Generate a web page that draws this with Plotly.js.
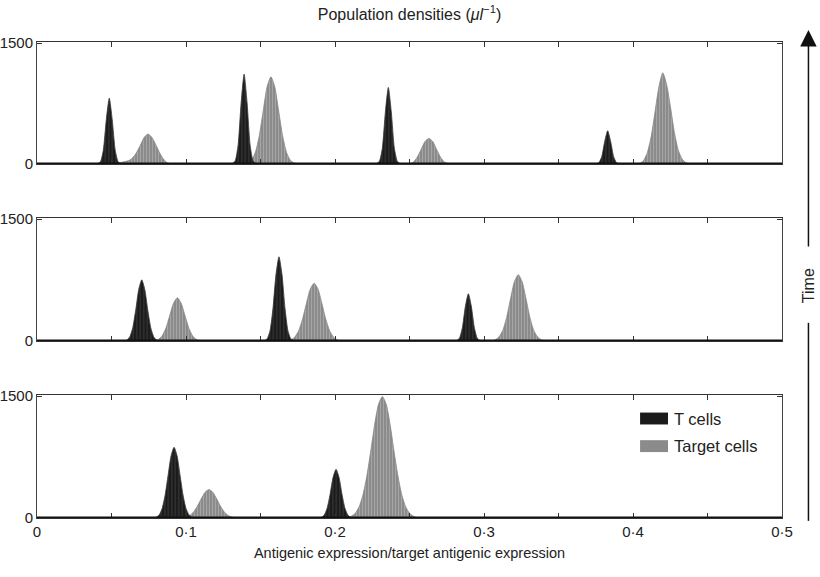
<!DOCTYPE html>
<html>
<head>
<meta charset="utf-8">
<script src="https://cdn.plot.ly/plotly-3.0.1.min.js"></script>
<style>html,body{margin:0;padding:0;background:#fff}#chart{width:820px;height:577px}</style>
</head>
<body>
<div id="chart"></div>
<script>
// Histogram bin widths (antigenic expression units)
const tBin = 0.002;
const gBin = 0.0026;

// Panel 1 (top, latest time)
const p1TStarts = [0.0385, 0.129, 0.2258, 0.373];
const p1TVals = [
  [0, 3, 25, 170, 550, 818, 550, 170, 25, 3, 0],
  [0, 5, 40, 240, 760, 1116, 760, 240, 40, 5, 0],
  [0, 4, 35, 200, 645, 951, 645, 200, 35, 4, 0],
  [0, 2, 15, 90, 280, 413, 280, 90, 15, 2, 0]
];
const p1GStarts = [0.0511, 0.1388, 0.2474, 0.4018];
const p1GVals = [
  [0, 12, 20, 30, 42, 75, 140, 230, 330, 372, 330, 240, 140, 60, 15, 0],
  [0, 12, 47, 147, 352, 657, 956, 1083, 956, 657, 352, 147, 47, 12, 3, 0],
  [0, 5, 25, 85, 180, 280, 318, 280, 180, 85, 25, 5, 0],
  [0, 8, 40, 140, 340, 650, 960, 1132, 985, 700, 390, 170, 60, 16, 3, 0]
];

// Panel 2 (middle)
const p2TStarts = [0.0583, 0.1504, 0.2795];
const p2TVals = [
  [0, 12, 53, 168, 387, 637, 753, 637, 387, 168, 53, 12, 0],
  [0, 3, 25, 128, 409, 822, 1037, 822, 409, 128, 25, 3, 0],
  [0, 4, 35, 167, 427, 582, 427, 167, 35, 4, 0]
];
const p2GStarts = [0.076, 0.1678, 0.3048];
const p2GVals = [
  [0, 6, 17, 58, 153, 307, 464, 533, 464, 307, 153, 58, 17, 6, 0],
  [0, 14, 48, 126, 269, 462, 640, 711, 640, 462, 269, 126, 48, 14, 0],
  [0, 14, 50, 130, 290, 520, 730, 817, 730, 520, 290, 130, 50, 14, 0]
];

// Panel 3 (bottom, earliest time)
const p3TStarts = [0.078, 0.1887];
const p3TVals = [
  [0, 10, 38, 118, 283, 528, 768, 871, 768, 528, 283, 118, 38, 10, 0],
  [0, 7, 34, 119, 292, 501, 600, 501, 292, 119, 34, 7, 0]
];
const p3GStarts = [0.0946, 0.2084];
const p3GVals = [
  [0, 3, 10, 30, 72, 144, 236, 317, 350, 317, 236, 144, 72, 30, 10, 3, 0],
  [0, 22, 58, 139, 287, 519, 824, 1149, 1400, 1496, 1400, 1149, 824, 519, 287, 139, 58, 22, 0]
];

const xTickVals = [0, 0.05, 0.1, 0.15, 0.2, 0.25, 0.3, 0.35, 0.4, 0.45, 0.5];
const xTickText = ['0', '', '0·1', '', '0·2', '', '0·3', '', '0·4', '', '0·5'];
const yTickVals = [0, 1500];
const yTickText = ['0', '1500'];
const seriesNames = ['T cells', 'Target cells'];

const tColor = '#1b1b1b';
const gColor = '#8b8b8b';
const styles = [
  {color: tColor, line: '#3a3a3a', pat: {shape: '|', bgcolor: tColor, fgcolor: '#6a6a6a', size: 3.5, solidity: 0.12}},
  {color: gColor, line: '#858585', pat: {shape: '|', bgcolor: gColor, fgcolor: '#c4c4c4', size: 3, solidity: 0.15}}
];

const panels = [
  {T: [p1TStarts, p1TVals], G: [p1GStarts, p1GVals], ax: ''},
  {T: [p2TStarts, p2TVals], G: [p2GStarts, p2GVals], ax: '2'},
  {T: [p3TStarts, p3TVals], G: [p3GStarts, p3GVals], ax: '3'}
];

const traces = [];
function addPeaks(starts, vals, bin, st, name, ax) {
  starts.forEach((s, i) => {
    const x = vals[i].map((v, j) => +(s + j * bin).toFixed(5));
    traces.push({
      type: 'scatter', mode: 'lines', x: x, y: vals[i], name: name,
      xaxis: 'x' + ax, yaxis: 'y' + ax, showlegend: false,
      fill: 'tozeroy', fillcolor: st.color, fillpattern: st.pat,
      line: {color: st.line, width: 0.8, shape: 'spline', smoothing: 0.6}
    });
  });
}
panels.forEach(p => {
  addPeaks(p.G[0], p.G[1], gBin, styles[1], seriesNames[1], p.ax);
  addPeaks(p.T[0], p.T[1], tBin, styles[0], seriesNames[0], p.ax);
});

const font = {family: 'Liberation Sans, Arial, sans-serif', size: 14, color: '#222'};
const tickFont = {family: font.family, size: 15, color: '#222'};
function xax(anchor, labels) {
  return {
    anchor: anchor, range: [0, 0.5], domain: [0, 1],
    tickmode: 'array', tickvals: xTickVals, ticktext: xTickText,
    showticklabels: labels, ticks: 'inside', ticklen: 5, tickcolor: '#333', tickwidth: 1,
    showline: true, linecolor: '#333', linewidth: 1, mirror: 'allticks',
    showgrid: false, zeroline: false, tickfont: tickFont
  };
}
function yax(anchor, dom) {
  return {
    anchor: anchor, domain: dom, range: [0, 1515],
    tickmode: 'array', tickvals: yTickVals, ticktext: yTickText,
    ticks: 'inside', ticklen: 5, tickcolor: '#333', tickwidth: 1,
    showline: true, linecolor: '#444', linewidth: 1, mirror: 'allticks',
    showgrid: false, zeroline: false, tickfont: tickFont
  };
}

const shapes = [];
['', '2', '3'].forEach(a => {
  shapes.push({type: 'line', xref: 'x' + a, yref: 'y' + a, x0: 0, x1: 0.5, y0: 0, y1: 0,
    line: {color: '#111', width: 3}, layer: 'above'});
});
// lower part of the time arrow
shapes.push({type: 'line', xref: 'paper', yref: 'paper', x0: 1.0355, x1: 1.0355, y0: -0.006, y1: 0.41,
  line: {color: '#111', width: 1.5}});
// legend swatches
const legFont = {family: font.family, size: 16.5, color: '#222'};
const legY = [0.209, 0.151];
const legColors = [tColor, gColor];
const legAnn = [];
legY.forEach((yy, i) => {
  shapes.push({type: 'rect', xref: 'paper', yref: 'paper', x0: 0.8095, x1: 0.8470, y0: yy - 0.0125, y1: yy + 0.0125,
    fillcolor: legColors[i], line: {width: 0}});
  legAnn.push({xref: 'paper', yref: 'paper', x: 0.852, y: yy, text: seriesNames[i], showarrow: false,
    xanchor: 'left', yanchor: 'middle', font: legFont});
});

const layout = {
  width: 820, height: 577,
  margin: {l: 37, r: 38, t: 42, b: 59},
  paper_bgcolor: '#fff', plot_bgcolor: '#fff',
  font: font,
  showlegend: false,
  title: {text: 'Population densities (<i>μl</i><sup>−1</sup>)', x: 0.5, xref: 'paper', y: 0.975, yanchor: 'middle',
    font: {family: font.family, size: 16, color: '#222'}},
  xaxis: xax('y', false),
  yaxis: yax('x', [0.7437, 1]),
  xaxis2: xax('y2', false),
  yaxis2: yax('x2', [0.3718, 0.6303]),
  xaxis3: Object.assign(xax('y3', true), {title: {text: 'Antigenic expression/target antigenic expression',
    font: {family: font.family, size: 14.5, color: '#222'}, standoff: 8}}),
  yaxis3: yax('x3', [0, 0.2584]),
  shapes: shapes,
  annotations: [
    {xref: 'paper', yref: 'paper', x: 1.0355, y: 1.025, ax: 0, ay: 218, axref: 'pixel', ayref: 'pixel',
     text: '', showarrow: true, arrowhead: 2, arrowsize: 2.2, arrowwidth: 1.5, arrowcolor: '#111'},
    {xref: 'paper', yref: 'paper', x: 1.0355, y: 0.488, text: 'Time', textangle: -90, showarrow: false,
     font: {family: font.family, size: 16, color: '#222'}, xanchor: 'center', yanchor: 'middle'}
  ].concat(legAnn)
};

Plotly.newPlot('chart', traces, layout, {displayModeBar: false, staticPlot: true});
</script>
</body>
</html>
